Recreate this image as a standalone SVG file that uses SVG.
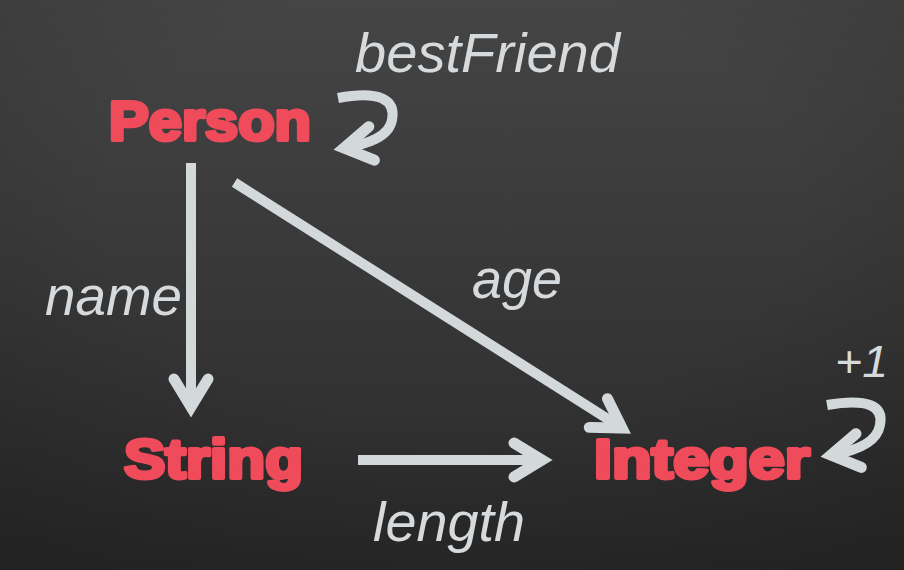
<svg xmlns="http://www.w3.org/2000/svg" width="904" height="570" viewBox="0 0 904 570">
  <defs>
    <linearGradient id="bg" x1="0" y1="0" x2="0" y2="1">
      <stop offset="0" stop-color="#454545"/>
      <stop offset="1" stop-color="#2a2a2a"/>
    </linearGradient>
    <radialGradient id="vig" cx="0.5" cy="0.35" r="0.75">
      <stop offset="0.5" stop-color="#000" stop-opacity="0"/>
      <stop offset="1" stop-color="#000" stop-opacity="0.18"/>
    </radialGradient>
    <marker id="chev" markerUnits="userSpaceOnUse" markerWidth="80" markerHeight="80" viewBox="-40 -40 80 80" refX="0" refY="0" orient="auto" overflow="visible">
      <path d="M -28 -17 L 0 0 L -28 17" fill="none" stroke="#d3d8db" stroke-width="11" stroke-linecap="round" stroke-linejoin="miter" stroke-miterlimit="10"/>
    </marker>
    <style>
      .node { font-family: "Liberation Sans", Arial, sans-serif; font-weight: bold; font-size: 55px; fill: #ef4b5b; stroke: #ef4b5b; stroke-width: 4; stroke-linejoin: round; }
      .lbl { font-family: "Liberation Sans", Arial, sans-serif; font-style: italic; font-size: 55px; fill: #d6dadd; }
      .edge { fill: none; stroke: #d3d8db; stroke-width: 10; stroke-linecap: butt; marker-end: url(#chev); }
    </style>
  </defs>
  <rect width="904" height="570" fill="url(#bg)"/>
  <rect width="904" height="570" fill="url(#vig)"/>

  <g id="connectors">
    <g id="e-bestFriend">
      <path class="edge" d="M 338 98 C 380 90, 396 100, 392 120 C 389 137, 368 144, 344 148"/>
      <text class="lbl" x="355" y="72" textLength="265" lengthAdjust="spacingAndGlyphs">bestFriend</text>
    </g>
    <g id="e-name">
      <path class="edge" d="M 191 163 V 407"/>
      <text class="lbl" x="45" y="315" textLength="137" lengthAdjust="spacingAndGlyphs">name</text>
    </g>
    <g id="e-age">
      <path class="edge" d="M 234.5 182.5 L 622 428"/>
      <text class="lbl" x="472" y="298" textLength="90" lengthAdjust="spacingAndGlyphs">age</text>
    </g>
    <g id="e-length">
      <path class="edge" d="M 358 460 H 542"/>
      <text class="lbl" x="373" y="541" textLength="152" lengthAdjust="spacingAndGlyphs">length</text>
    </g>
    <g id="e-plus1">
      <path class="edge" d="M 827 405 C 868 398, 884 406, 880 425 C 877 443, 856 451, 831 455"/>
      <text class="lbl" x="835" y="377" style="font-size:44px" textLength="53" lengthAdjust="spacingAndGlyphs">+1</text>
    </g>
  </g>

  <g id="Person">
    <text class="node" x="109" y="140" textLength="202" lengthAdjust="spacingAndGlyphs">Person</text>
  </g>
  <g id="String">
    <text class="node" x="124" y="478" textLength="179" lengthAdjust="spacingAndGlyphs">String</text>
  </g>
  <g id="Integer">
    <text class="node" x="594" y="478" textLength="216" lengthAdjust="spacingAndGlyphs">Integer</text>
  </g>
</svg>
